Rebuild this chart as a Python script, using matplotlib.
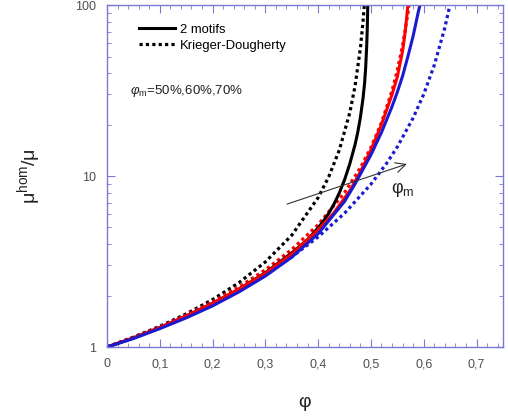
import numpy as np
import matplotlib.pyplot as plt
from matplotlib.ticker import MultipleLocator, FixedLocator, FuncFormatter, NullFormatter
from matplotlib.lines import Line2D

plt.rcParams['font.family'] = ['Liberation Sans', 'DejaVu Sans']
plt.rcParams['mathtext.fontset'] = 'custom'
plt.rcParams['mathtext.rm'] = 'Liberation Sans'
plt.rcParams['mathtext.it'] = 'Liberation Sans:italic'

# 2 motifs (solid)
phi_m50 = [0, 0.05, 0.1, 0.15, 0.2, 0.25, 0.3, 0.35, 0.38, 0.39, 0.40, 0.41, 0.42, 0.43, 0.44, 0.45,
           0.46, 0.47, 0.475, 0.48, 0.485, 0.488, 0.49, 0.492, 0.493, 0.494]
mu_m50 = [1, 1.13, 1.30, 1.52, 1.80, 2.18, 2.72, 3.55, 4.25, 4.6, 4.98, 5.45, 6.05, 6.85, 7.95, 9.5,
          11.8, 15.3, 18.0, 22, 28.5, 35, 43, 58, 72, 100]

phi_m60 = [0, 0.05, 0.1, 0.15, 0.2, 0.25, 0.3, 0.35, 0.4, 0.43, 0.46, 0.48, 0.5, 0.52, 0.54, 0.55, 0.56, 0.565, 0.57]
mu_m60 = [1, 1.13, 1.30, 1.52, 1.80, 2.18, 2.70, 3.50, 4.85, 6.1, 8.2, 10.6, 14.2, 20, 30, 38, 54, 70, 100]

phi_m70 = [0, 0.05, 0.1, 0.15, 0.2, 0.25, 0.3, 0.35, 0.4, 0.45, 0.47, 0.5, 0.52, 0.54, 0.55, 0.56, 0.57, 0.58, 0.59, 0.593]
mu_m70 = [1, 1.12, 1.28, 1.48, 1.74, 2.10, 2.60, 3.35, 4.6, 7.1, 9.0, 13.3, 18.0, 25.5, 31, 38.5, 50, 66, 92, 100]

# Krieger-Dougherty (dotted)
phi_kd50 = [0, 0.05, 0.1, 0.15, 0.2, 0.25, 0.3, 0.35, 0.4, 0.42, 0.44, 0.46, 0.47, 0.48, 0.485, 0.488]
mu_kd50 = [1, 1.141, 1.322, 1.562, 1.894, 2.378, 3.144, 4.505, 7.477, 9.882, 14.16, 23.5, 33.7, 55.9, 80.1, 105.9]

phi_kd60 = [0, 0.05, 0.1, 0.15, 0.2, 0.25, 0.3, 0.35, 0.4, 0.45, 0.48, 0.5, 0.52, 0.54, 0.55, 0.56, 0.57, 0.575]
mu_kd60 = [1, 1.139, 1.315, 1.540, 1.837, 2.245, 2.828, 3.718, 5.196, 8.0, 11.18, 14.70, 20.54, 31.62, 41.6, 58.1, 89.4, 117.6]

phi_kd70 = [0, 0.05, 0.1, 0.15, 0.2, 0.25, 0.3, 0.35, 0.4, 0.45, 0.5, 0.53, 0.55, 0.58, 0.6, 0.62, 0.64, 0.65]
mu_kd70 = [1, 1.138, 1.310, 1.525, 1.802, 2.167, 2.663, 3.364, 4.405, 6.061, 8.957, 11.90, 14.81, 21.9, 30.1, 44.5, 73.7, 101.3]

fig = plt.figure(figsize=(5.08, 4.19), dpi=100)
ax = fig.add_axes([0.2106, 0.1718, 0.7794, 0.8162])

dot = (0, (1, 1))
ax.plot(phi_kd50, mu_kd50, color='black', lw=2.3, ls=dot)
ax.plot(phi_kd60, mu_kd60, color='red', lw=2.3, ls=dot)
ax.plot(phi_kd70, mu_kd70, color='#1a1ad0', lw=2.3, ls=dot)
ax.plot(phi_m50, mu_m50, color='black', lw=2.2)
ax.plot(phi_m60, mu_m60, color='red', lw=2.2)
ax.plot(phi_m70, mu_m70, color='#1a1ad0', lw=2.2)

ax.set_yscale('log')
ax.set_xlim(0, 0.75)
ax.set_ylim(1, 100)

spine_c = '#7a7ad6'
for s in ax.spines.values():
    s.set_color(spine_c)
    s.set_linewidth(1.0)

ax.xaxis.set_major_locator(MultipleLocator(0.1))
ax.xaxis.set_minor_locator(MultipleLocator(0.02))
ax.xaxis.set_major_formatter(FuncFormatter(lambda v, p: ('%g' % round(v, 2)).replace('.', ',')))
ax.yaxis.set_major_locator(FixedLocator([1, 10, 100]))
ax.yaxis.set_major_formatter(FuncFormatter(lambda v, p: '%d' % v))
ax.yaxis.set_minor_formatter(NullFormatter())
ax.tick_params(which='both', direction='in', top=True, right=True, color=spine_c,
               labelcolor='#505050', labelsize=9)
ax.tick_params(which='major', length=6, pad=8)
ax.tick_params(which='minor', length=3)

ax.set_xlabel('φ', fontsize=14, color='#222222', labelpad=17)
ax.set_ylabel(r'$\mathregular{\mu^{hom}/\mu}$', fontsize=14, color='#222222', labelpad=23)

handles = [Line2D([], [], color='black', lw=2.2),
           Line2D([], [], color='black', lw=2.3, ls=dot)]
ax.legend(handles, ['2 motifs', 'Krieger-Dougherty'], loc='upper left', frameon=False,
          fontsize=9.4, handlelength=2.7, handletextpad=0.4, labelspacing=0.3,
          bbox_to_anchor=(0.052, 0.98))

ax.text(0.058, 0.75, r'$\mathit{\varphi}_{\mathregular{m}}$=50%,60%,70%', transform=ax.transAxes,
        fontsize=9.5, color='#222222', va='center')

ax.annotate('', xy=(0.573, 11.9), xytext=(0.336, 6.77),
            arrowprops=dict(arrowstyle='->', color='#333333', lw=0.8, mutation_scale=18))
ax.text(0.538, 8.3, r'$\mathregular{\varphi_m}$', fontsize=13, color='#222222', va='center')

fig.savefig('out.png', dpi=100)
